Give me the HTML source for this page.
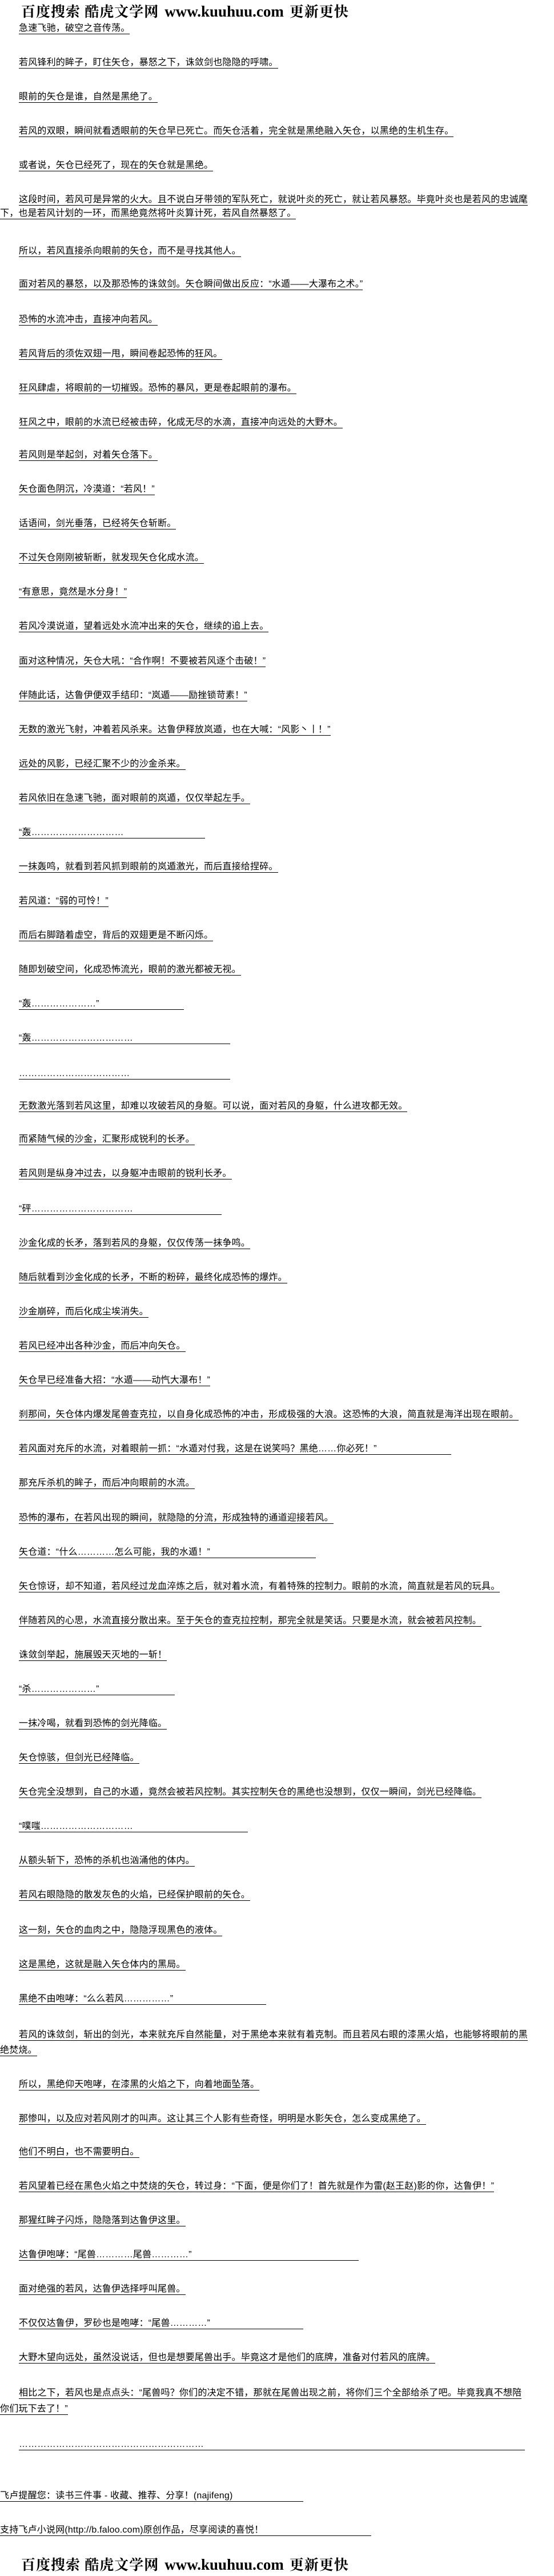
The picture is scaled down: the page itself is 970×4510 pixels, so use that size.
<!DOCTYPE html>
<html><head><meta charset="utf-8">
<style>
html,body{margin:0;padding:0;background:#fff;}
body{width:970px;height:4510px;position:relative;overflow:hidden;font-family:"Liberation Sans","WenQuanYi Zen Hei","Noto Sans CJK SC",sans-serif;color:#000;}
.l{position:absolute;left:33px;font-size:16px;line-height:20px;letter-spacing:0.2px;white-space:nowrap;}
.l span{border-bottom:1px solid #000;display:inline-block;line-height:19px;}
.z{left:0;}
.h{position:absolute;left:37px;height:30px;white-space:nowrap;font-weight:bold;}
.h .c{font-family:"Noto Serif CJK SC","WenQuanYi Zen Hei",serif;font-size:25px;letter-spacing:1px;}
.h .w{font-family:"Liberation Serif",serif;font-size:27px;margin:0 10px;}
</style></head><body>
<div class="h" style="top:1px"><span class="c">百度搜索 酷虎文学网</span><span class="w">www.kuuhuu.com</span><span class="c">更新更快</span></div>

<div class="l" style="top:40px"><span>急速飞驰，破空之音传荡。</span></div>
<div class="l" style="top:100px"><span>若风锋利的眸子，盯住矢仓，暴怒之下，诛敛剑也隐隐的呼啸。</span></div>
<div class="l" style="top:160px"><span>眼前的矢仓是谁，自然是黑绝了。</span></div>
<div class="l" style="top:220px"><span>若风的双眼，瞬间就看透眼前的矢仓早已死亡。而矢仓活着，完全就是黑绝融入矢仓，以黑绝的生机生存。</span></div>
<div class="l" style="top:280px"><span>或者说，矢仓已经死了，现在的矢仓就是黑绝。</span></div>
<div class="l" style="top:340px"><span>这段时间，若风可是异常的火大。且不说白牙带领的军队死亡，就说叶炎的死亡，就让若风暴怒。毕竟叶炎也是若风的忠诚麾</span></div>
<div class="l z" style="top:364px"><span>下，也是若风计划的一环，而黑绝竟然将叶炎算计死，若风自然暴怒了。</span></div>
<div class="l" style="top:430px"><span>所以，若风直接杀向眼前的矢仓，而不是寻找其他人。</span></div>
<div class="l" style="top:488px"><span>面对若风的暴怒，以及那恐怖的诛敛剑。矢仓瞬间做出反应：“水遁——大瀑布之术。”</span></div>
<div class="l" style="top:550px"><span>恐怖的水流冲击，直接冲向若风。</span></div>
<div class="l" style="top:610px"><span>若风背后的须佐双翅一甩，瞬间卷起恐怖的狂风。</span></div>
<div class="l" style="top:670px"><span>狂风肆虐，将眼前的一切摧毁。恐怖的暴风，更是卷起眼前的瀑布。</span></div>
<div class="l" style="top:730px"><span>狂风之中，眼前的水流已经被击碎，化成无尽的水滴，直接冲向远处的大野木。</span></div>
<div class="l" style="top:787px"><span>若风则是举起剑，对着矢仓落下。</span></div>
<div class="l" style="top:847px"><span>矢仓面色阴沉，冷漠道：“若风！”</span></div>
<div class="l" style="top:907px"><span>话语间，剑光垂落，已经将矢仓斩断。</span></div>
<div class="l" style="top:967px"><span>不过矢仓刚刚被斩断，就发现矢仓化成水流。</span></div>
<div class="l" style="top:1027px"><span>“有意思，竟然是水分身！”</span></div>
<div class="l" style="top:1087px"><span>若风冷漠说道，望着远处水流冲出来的矢仓，继续的追上去。</span></div>
<div class="l" style="top:1148px"><span>面对这种情况，矢仓大吼：“合作啊！不要被若风逐个击破！”</span></div>
<div class="l" style="top:1208px"><span>伴随此话，达鲁伊便双手结印：“岚遁——励挫锁苛素！”</span></div>
<div class="l" style="top:1268px"><span>无数的激光飞射，冲着若风杀来。达鲁伊释放岚遁，也在大喊：“风影丶丨！”</span></div>
<div class="l" style="top:1328px"><span>远处的风影，已经汇聚不少的沙金杀来。</span></div>
<div class="l" style="top:1388px"><span>若风依旧在急速飞驰，面对眼前的岚遁，仅仅举起左手。</span></div>
<div class="l" style="top:1448px"><span style="width:326px">“轰…………………………</span></div>
<div class="l" style="top:1508px"><span>一抹轰鸣，就看到若风抓到眼前的岚遁激光，而后直接给捏碎。</span></div>
<div class="l" style="top:1568px"><span>若风道：“弱的可怜！”</span></div>
<div class="l" style="top:1628px"><span>而后右脚踏着虚空，背后的双翅更是不断闪烁。</span></div>
<div class="l" style="top:1688px"><span>随即划破空间，化成恐怖流光，眼前的激光都被无视。</span></div>
<div class="l" style="top:1748px"><span style="width:289px">“轰…………………”</span></div>
<div class="l" style="top:1808px"><span style="width:370px">“轰……………………………</span></div>
<div class="l" style="top:1870px"><span style="width:370px">………………………………</span></div>
<div class="l" style="top:1927px"><span>无数激光落到若风这里，却难以攻破若风的身躯。可以说，面对若风的身躯，什么进攻都无效。</span></div>
<div class="l" style="top:1985px"><span>而紧随气候的沙金，汇聚形成锐利的长矛。</span></div>
<div class="l" style="top:2045px"><span>若风则是纵身冲过去，以身躯冲击眼前的锐利长矛。</span></div>
<div class="l" style="top:2107px"><span style="width:355px">“砰……………………………</span></div>
<div class="l" style="top:2167px"><span>沙金化成的长矛，落到若风的身躯，仅仅传荡一抹争鸣。</span></div>
<div class="l" style="top:2227px"><span>随后就看到沙金化成的长矛，不断的粉碎，最终化成恐怖的爆炸。</span></div>
<div class="l" style="top:2287px"><span>沙金崩碎，而后化成尘埃消失。</span></div>
<div class="l" style="top:2347px"><span>若风已经冲出各种沙金，而后冲向矢仓。</span></div>
<div class="l" style="top:2407px"><span>矢仓早已经准备大招：“水遁——动忾大瀑布！”</span></div>
<div class="l" style="top:2467px"><span>刹那间，矢仓体内爆发尾兽查克拉，以自身化成恐怖的冲击，形成极强的大浪。这恐怖的大浪，简直就是海洋出现在眼前。</span></div>
<div class="l" style="top:2527px"><span style="width:757px">若风面对充斥的水流，对着眼前一抓：“水遁对付我，这是在说笑吗？黑绝……你必死！”</span></div>
<div class="l" style="top:2587px"><span>那充斥杀机的眸子，而后冲向眼前的水流。</span></div>
<div class="l" style="top:2648px"><span>恐怖的瀑布，在若风出现的瞬间，就隐隐的分流，形成独特的通道迎接若风。</span></div>
<div class="l" style="top:2708px"><span style="width:520px">矢仓道：“什么…………怎么可能，我的水遁！”</span></div>
<div class="l" style="top:2768px"><span>矢仓惊讶，却不知道，若风经过龙血淬炼之后，就对着水流，有着特殊的控制力。眼前的水流，简直就是若风的玩具。</span></div>
<div class="l" style="top:2828px"><span>伴随若风的心思，水流直接分散出来。至于矢仓的查克拉控制，那完全就是笑话。只要是水流，就会被若风控制。</span></div>
<div class="l" style="top:2888px"><span>诛敛剑举起，施展毁天灭地的一斩！</span></div>
<div class="l" style="top:2948px"><span style="width:273px">“杀…………………”</span></div>
<div class="l" style="top:3008px"><span>一抹冷喝，就看到恐怖的剑光降临。</span></div>
<div class="l" style="top:3068px"><span>矢仓惊骇，但剑光已经降临。</span></div>
<div class="l" style="top:3128px"><span>矢仓完全没想到，自己的水遁，竟然会被若风控制。其实控制矢仓的黑绝也没想到，仅仅一瞬间，剑光已经降临。</span></div>
<div class="l" style="top:3188px"><span style="width:401px">“噗嗤…………………………</span></div>
<div class="l" style="top:3248px"><span>从额头斩下，恐怖的杀机也汹涌他的体内。</span></div>
<div class="l" style="top:3308px"><span>若风右眼隐隐的散发灰色的火焰，已经保护眼前的矢仓。</span></div>
<div class="l" style="top:3370px"><span>这一刻，矢仓的血肉之中，隐隐浮现黑色的液体。</span></div>
<div class="l" style="top:3430px"><span>这是黑绝，这就是融入矢仓体内的黑局。</span></div>
<div class="l" style="top:3490px"><span style="width:433px">黑绝不由咆哮：“么么若风……………”</span></div>
<div class="l" style="top:3553px"><span>若风的诛敛剑，斩出的剑光，本来就充斥自然能量，对于黑绝本来就有着克制。而且若风右眼的漆黑火焰，也能够将眼前的黑</span></div>
<div class="l z" style="top:3580px"><span>绝焚烧。</span></div>
<div class="l" style="top:3640px"><span>所以，黑绝仰天咆哮，在漆黑的火焰之下，向着地面坠落。</span></div>
<div class="l" style="top:3700px"><span>那惨叫，以及应对若风刚才的叫声。这让其三个人影有些奇怪，明明是水影矢仓，怎么变成黑绝了。</span></div>
<div class="l" style="top:3758px"><span>他们不明白，也不需要明白。</span></div>
<div class="l" style="top:3818px"><span>若风望着已经在黑色火焰之中焚烧的矢仓，转过身：“下面，便是你们了！首先就是作为雷(赵王赵)影的你，达鲁伊！”</span></div>
<div class="l" style="top:3878px"><span>那猩红眸子闪烁，隐隐落到达鲁伊这里。</span></div>
<div class="l" style="top:3938px"><span style="width:595px">达鲁伊咆哮：“尾兽…………尾兽…………”</span></div>
<div class="l" style="top:3998px"><span>面对绝强的若风，达鲁伊选择呼叫尾兽。</span></div>
<div class="l" style="top:4058px"><span style="width:498px">不仅仅达鲁伊，罗砂也是咆哮：“尾兽…………”</span></div>
<div class="l" style="top:4118px"><span>大野木望向远处，虽然没说话，但也是想要尾兽出手。毕竟这才是他们的底牌，准备对付若风的底牌。</span></div>
<div class="l" style="top:4180px"><span>相比之下，若风也是点点头：“尾兽吗？你们的决定不错，那就在尾兽出现之前，将你们三个全部给杀了吧。毕竟我真不想陪</span></div>
<div class="l z" style="top:4208px"><span>你们玩下去了！”</span></div>
<div class="l" style="top:4270px"><span style="width:886px">……………………………………………………</span></div>
<div class="l z" style="top:4360px"><span style="width:531px">飞卢提醒您：读书三件事 - 收藏、推荐、分享！(najifeng)</span></div>
<div class="l z" style="top:4420px"><span style="width:650px">支持飞卢小说网(http://b.faloo.com)原创作品，尽享阅读的喜悦！</span></div>

<div class="h" style="top:4471px"><span class="c">百度搜索 酷虎文学网</span><span class="w">www.kuuhuu.com</span><span class="c">更新更快</span></div>
</body></html>
